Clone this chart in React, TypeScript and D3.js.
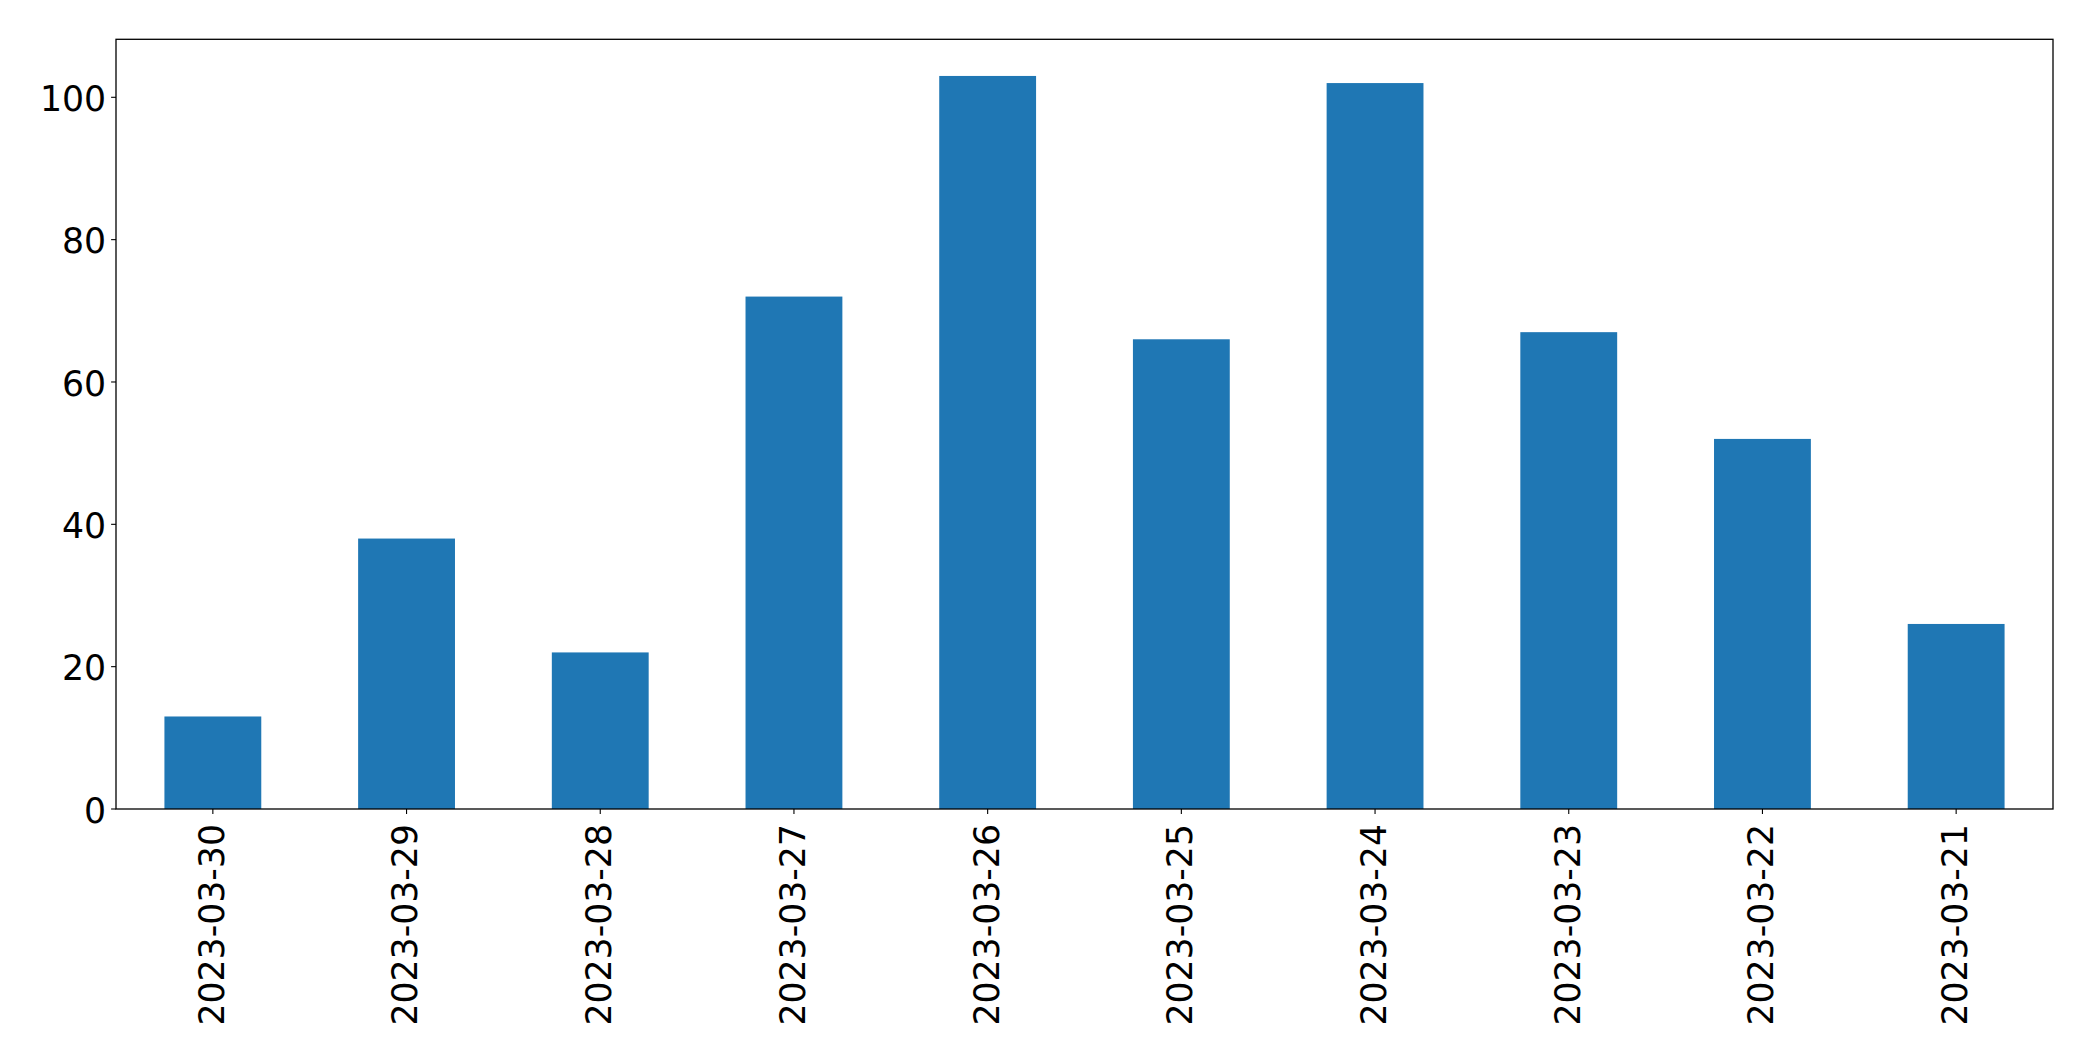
import React from "react";
import * as d3 from "d3";

const categories = ["2023-03-30","2023-03-29","2023-03-28","2023-03-27","2023-03-26","2023-03-25","2023-03-24","2023-03-23","2023-03-22","2023-03-21"];
const values = [13, 38, 22, 72, 103, 66, 102, 67, 52, 26];
const yTicks = [0, 20, 40, 60, 80, 100];

const W = 2093, H = 1061;
const left = 116, right = 2053, top = 39.3, bottom = 809;
const FONT = "'DejaVu Sans', sans-serif";
const FS = 34.7;

export default function App() {
  const x = d3.scaleLinear().domain([-0.5, categories.length - 0.5]).range([left, right]);
  const ymax = d3.max(values)! * 1.05;
  const y = d3.scaleLinear().domain([0, ymax]).range([bottom, top]);
  const bw = (x(1) - x(0)) * 0.5;
  return (
    <svg width={W} height={H} style={{ position: "absolute", left: 0, top: 0, background: "#fff" }}>
      {values.map((v, i) => (
        <rect key={i} x={x(i) - bw / 2} y={y(v)} width={bw} height={y(0) - y(v)} fill="#1f77b4" />
      ))}
      {yTicks.map((t) => (
        <g key={t}>
          <line x1={left - 4.9} x2={left} y1={y(t)} y2={y(t)} stroke="#000" strokeWidth={1.1} />
          <text x={left - 9.8} y={y(t) + 1.8} textAnchor="end" dominantBaseline="central" fontFamily={FONT} fontSize={FS} fill="#000">{t}</text>
        </g>
      ))}
      {categories.map((c, i) => (
        <g key={c}>
          <line x1={x(i)} x2={x(i)} y1={bottom} y2={bottom + 4.9} stroke="#000" strokeWidth={1.1} />
          <text transform={`translate(${x(i) - 1.1},${bottom + 15}) rotate(-90)`} textAnchor="end" dominantBaseline="central" fontFamily={FONT} fontSize={FS} fill="#000">{c}</text>
        </g>
      ))}
      <rect x={left} y={top} width={right - left} height={bottom - top} fill="none" stroke="#000" strokeWidth={1.3} />
    </svg>
  );
}
